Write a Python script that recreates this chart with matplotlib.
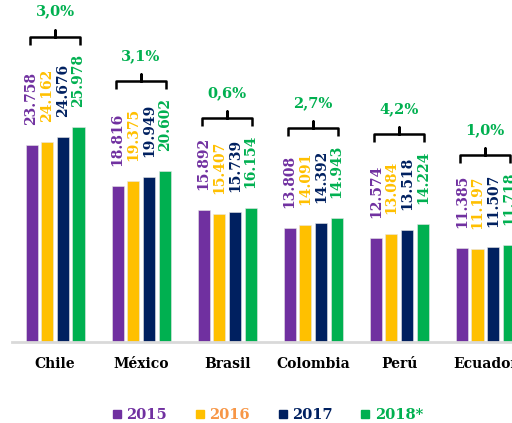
import matplotlib
matplotlib.use("Agg")
import matplotlib.pyplot as plt
from matplotlib.lines import Line2D
import numpy as np

countries = ["Chile", "México", "Brasil", "Colombia", "Perú", "Ecuador"]
years = ["2015", "2016", "2017", "2018*"]
v2015 = [23758, 18816, 15892, 13808, 12574, 11385]
v2016 = [24162, 19375, 15407, 14091, 13084, 11197]
v2017 = [24676, 19949, 15739, 14392, 13518, 11507]
v2018 = [25978, 20602, 16154, 14943, 14224, 11718]
growth = ["3,0%", "3,1%", "0,6%", "2,7%", "4,2%", "1,0%"]

bar_colors = ["#7030A0", "#FFC000", "#002060", "#00B050"]
legend_text_colors = ["#7030A0", "#F79646", "#002060", "#00B050"]
serif = "DejaVu Serif"

W, H = 512, 423
fig = plt.figure(figsize=(W / 100, H / 100), dpi=100)
ax_h = 342
ax = fig.add_axes([12 / W, 81 / H, 500 / W, ax_h / H])
ymax = 41250
ax.set_ylim(0, ymax)
ax.set_xlim(-0.5, 5.31)
px = ymax / ax_h  # data units per pixel

x = np.arange(len(countries))
pitch = 0.182
width = 0.14
series = [v2015, v2016, v2017, v2018]
for k, vals in enumerate(series):
    xs = x + (k - 1.5) * pitch
    ax.bar(xs, vals, width, color=bar_colors[k], edgecolor="#e6e6e6",
           linewidth=0.4, zorder=2)
    for xi, v in zip(xs, vals):
        ax.text(xi, v + 20 * px, f"{v:,}".replace(",", "."), rotation=90,
                ha="center", va="bottom", color=bar_colors[k],
                fontsize=10, fontweight="bold", family=serif)

# brackets with growth rates
half = 0.29
for i in range(len(countries)):
    top = max(s[i] for s in series)
    yb = top + 82 * px
    yh = yb + 8 * px
    yn = yh + 7 * px
    c = x[i]
    ax.plot([c - half, c - half, c, c, c, c + half, c + half],
            [yb, yh, yh, yn, yh, yh, yb], color="black", lw=1.8,
            solid_joinstyle="round", solid_capstyle="butt", clip_on=False)
    ax.text(c, yh + 25 * px, growth[i], ha="center", va="center",
            color="#00B050", fontsize=10.5, fontweight="bold", family=serif)

for s in ["top", "right", "left"]:
    ax.spines[s].set_visible(False)
ax.spines["bottom"].set_color("#D9D9D9")
ax.spines["bottom"].set_linewidth(2)
ax.set_yticks([])
ax.set_xticks(x)
ax.set_xticklabels(countries, fontsize=10, fontweight="bold", family=serif)
ax.tick_params(axis="x", length=0, pad=11)

handles = [Line2D([], [], marker="s", color=c, linestyle="none", markersize=6)
           for c in bar_colors]
leg = fig.legend(handles, years, loc="center", bbox_to_anchor=(0.52, 8 / H),
                 ncol=4, frameon=False, handletextpad=0.15, handlelength=1.0,
                 columnspacing=1.75,
                 prop={"family": serif, "weight": "bold", "size": 10.5},
                 labelcolor=legend_text_colors)

fig.savefig("out.png", dpi=100)
